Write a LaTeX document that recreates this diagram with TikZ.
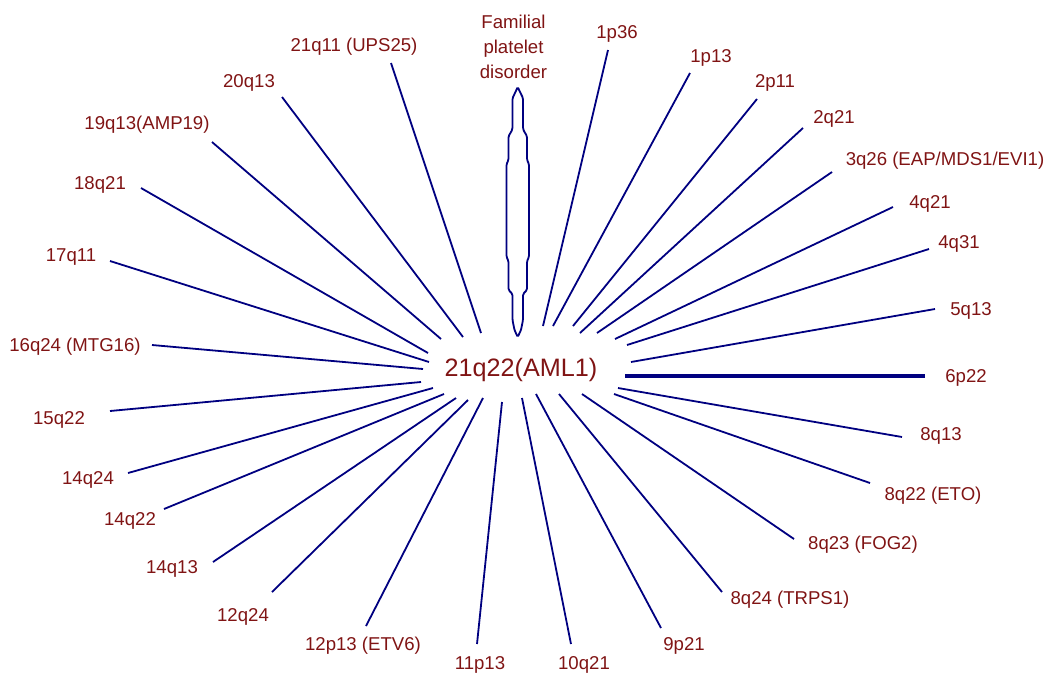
\documentclass[tikz,border=0pt]{standalone}
\usepackage{fontspec}
\setmainfont{Liberation Sans}
\definecolor{labelred}{RGB}{128,20,20}
\definecolor{raynavy}{RGB}{0,0,128}
\begin{document}
\begin{tikzpicture}[x=1pt,y=-1pt,
  lbl/.style={text=labelred,font=\fontsize{18.6}{22}\selectfont,inner sep=0pt,anchor=base},
  hublbl/.style={text=labelred,font=\fontsize{25.2}{29}\selectfont,inner sep=0pt,anchor=base},
  ray/.style={draw=raynavy,line width=1.8pt},
  thickray/.style={draw=raynavy,line width=3.6pt}]
\useasboundingbox (0,0) rectangle (1052,673);

% central locus
\node[hublbl] (hub) at (521,376) {21q22(AML1)};

% partner loci: name / label / label base / outer end / inner end
\foreach \n/\t/\lx/\ly/\ox/\oy/\ix/\iy in {
  u21q11/21q11 (UPS25)/354/51/391/63/481/333,
  u20q13/20q13/249/87/282/97/463/337,
  u19q13/19q13(AMP19)/147/129/212/142/441/339,
  u18q21/18q21/100/189/141/188/428/353,
  u17q11/17q11/71/261/110/261/429/362,
  u16q24/16q24 (MTG16)/75/351/152/345/423/369,
  u15q22/15q22/59/424/110/411/421/382,
  u14q24/14q24/88/484/128/473/433/388,
  u14q22/14q22/130/525/164/509/444/394,
  u14q13/14q13/172/573/213/562/456/398,
  u12q24/12q24/243/621/272/592/468/400,
  u12p13/12p13 (ETV6)/363/650/366/626/483/398,
  u11p13/11p13/480/669/477/644/502/402,
  u10q21/10q21/584/669/571/644/522/398,
  u9p21/9p21/684/650/661/628/536/394,
  u8q24/8q24 (TRPS1)/790/604/722/592/559/394,
  u8q23/8q23 (FOG2)/863/549/794/539/582/394,
  u8q22/8q22 (ETO)/933/500/870/483/614/394,
  u8q13/8q13/941/440/902/437/618/388,
  u5q13/5q13/971/315/935/309/631/362,
  u4q31/4q31/959/248/929/249/627/345,
  u4q21/4q21/930/208/893/207/615/339,
  u2q21/2q21/834/123/803/128/580/333,
  u2p11/2p11/775/87/757/99/573/326,
  u1p13/1p13/711/62/690/73/553/326,
  u1p36/1p36/617/38/608/50/543/326}{
  \node[lbl] (l-\n) at (\lx,\ly) {\t};
  \coordinate (o-\n) at (\ox,\oy);
  \coordinate (i-\n) at (\ix,\iy);
  \draw[ray] (o-\n) -- (i-\n);
}

% 3q26 label contains slashes, so it is set apart from the list
\node[lbl] (l-u3q26) at (945,165) {3q26 (EAP/MDS1/EVI1)};
\coordinate (o-u3q26) at (832,172);
\coordinate (i-u3q26) at (597,333);
\draw[ray] (o-u3q26) -- (i-u3q26);

% 6p22: heavier horizontal ray
\node[lbl] (l-u6p22) at (966,382) {6p22};
\coordinate (o-u6p22) at (925,376);
\coordinate (i-u6p22) at (625,376);
\draw[thickray] (o-u6p22) -- (i-u6p22);

% familial platelet disorder: label and elongated outline
\node[text=labelred,font=\fontsize{18.6}{25}\selectfont,inner sep=0pt,align=center,anchor=north]
  (fpd) at (513.5,15) {Familial\\platelet\\disorder};
\draw[draw=raynavy,line width=1.8pt,rounded corners=1.5pt]
  (517.7,87) -- (520.5,93) -- (523,98) -- (523,129) -- (525,133) -- (527,136)
  -- (527,160) -- (529,164) -- (529,257) -- (527,261) -- (527,290) -- (523,294)
  -- (523,320) -- (521,330) -- (517.7,337) -- (514.5,330) -- (512.5,320)
  -- (512.5,294) -- (508.5,290) -- (508.5,261) -- (506.5,257) -- (506.5,164)
  -- (508.5,160) -- (508.5,136) -- (510.5,133) -- (512.5,129) -- (512.5,98)
  -- (515,93) -- cycle;
\end{tikzpicture}
\end{document}
